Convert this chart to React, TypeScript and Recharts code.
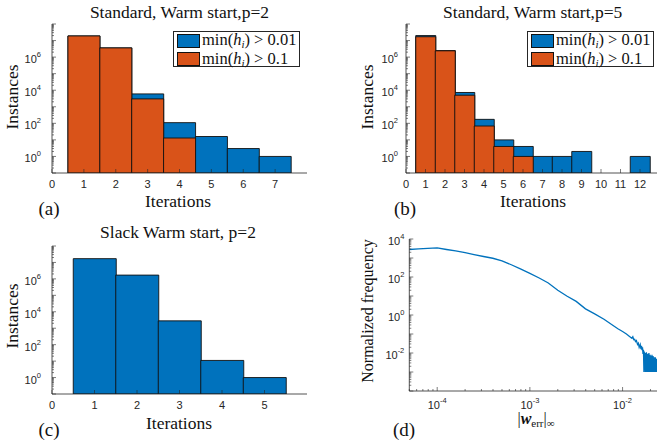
import React from 'react';
import { BarChart, Bar, XAxis, YAxis, LineChart, Line } from 'recharts';

// ---------------- data ----------------
// (a) Standard, warm start, p=2
const iterationsA = [1, 2, 3, 4, 5, 6, 7];
const countsA001 = [1.9e7, 3.6e6, 6.0e3, 110, 16, 3, 1];
const countsA01 = [1.9e7, 3.6e6, 3.0e3, 13, null, null, null];
// (b) Standard, warm start, p=5
const iterationsB = [1, 2, 3, 4, 5, 6, 7, 8, 9, 10, 11, 12];
const countsB001 = [2.0e7, 2.5e6, 7.3e3, 174, 10, 4, 1, 1, 2, null, null, 1];
const countsB01 = [1.7e7, 2.4e6, 5.0e3, 69, 4, 1, null, null, null, null, null, null];
// (c) Slack warm start, p=2
const iterationsC = [1, 2, 3, 4, 5];
const countsC = [1.7e7, 1.7e6, 2.8e3, 11, 1];
// (d) normalized frequency of |w_err|_inf
const errValues = [
  5.0e-5, 6.3e-5, 7.9e-5, 1.0e-4, 1.26e-4, 1.58e-4, 2.0e-4, 2.5e-4, 3.16e-4, 3.98e-4,
  5.0e-4, 6.3e-4, 7.9e-4, 1.0e-3, 1.26e-3, 1.58e-3, 2.0e-3, 2.5e-3, 3.16e-3, 3.98e-3,
  5.0e-3, 6.3e-3, 7.9e-3, 8.9e-3, 1.0e-2, 1.10e-2, 1.17e-2,
  1.26e-2, 1.29e-2, 1.32e-2, 1.35e-2, 1.38e-2, 1.41e-2, 1.45e-2, 1.48e-2, 1.51e-2, 1.55e-2,
  1.58e-2, 1.60e-2, 1.62e-2, 1.64e-2, 1.66e-2, 1.68e-2,
  1.700e-2, 1.715e-2, 1.730e-2, 1.745e-2, 1.760e-2, 1.775e-2, 1.790e-2, 1.805e-2, 1.820e-2, 1.835e-2,
  1.850e-2, 1.865e-2, 1.880e-2, 1.895e-2, 1.910e-2, 1.925e-2, 1.940e-2, 1.955e-2, 1.970e-2, 1.985e-2,
  2.000e-2, 2.015e-2, 2.030e-2, 2.045e-2, 2.060e-2, 2.075e-2, 2.090e-2, 2.105e-2, 2.120e-2, 2.135e-2,
  2.150e-2, 2.165e-2, 2.180e-2, 2.195e-2, 2.210e-2, 2.225e-2, 2.240e-2, 2.255e-2, 2.270e-2, 2.285e-2,
  2.300e-2, 2.315e-2, 2.330e-2, 2.345e-2, 2.360e-2, 2.375e-2, 2.390e-2, 2.405e-2, 2.420e-2, 2.435e-2,
  2.450e-2,
];
const normFreq = [
  2800, 3000, 3200, 3400, 2800, 2350, 1900, 1500, 1200, 970,
  710, 440, 265, 155, 89, 48, 20, 10, 5.2, 2.1,
  1.15, 0.60, 0.28, 0.19, 0.135, 0.10, 0.079,
  0.060, 0.071, 0.050, 0.052, 0.040, 0.045, 0.028, 0.033, 0.020, 0.028,
  0.016, 0.024, 0.014, 0.020, 0.009, 0.015,
  0.001, 0.012, 0.002, 0.010, 0.001, 0.009, 0.003, 0.011, 0.001, 0.008,
  0.001, 0.009, 0.002, 0.007, 0.001, 0.010, 0.001, 0.006, 0.002, 0.008,
  0.001, 0.007, 0.001, 0.006, 0.002, 0.008, 0.001, 0.005, 0.001, 0.007,
  0.001, 0.005, 0.002, 0.006, 0.001, 0.005, 0.001, 0.006, 0.001, 0.004,
  0.001, 0.005, 0.002, 0.005, 0.001, 0.004, 0.001, 0.005, 0.001, 0.004,
  0.001,
];

// ticks
const xTicksA = [0, 1, 2, 3, 4, 5, 6, 7];
const xTicksB = [0, 1, 2, 3, 4, 5, 6, 7, 8, 9, 10, 11, 12];
const xTicksC = [0, 1, 2, 3, 4, 5];
const histYLabelTicks = [1, 1e2, 1e4, 1e6];
const dXLabelTicks = [1e-4, 1e-3, 1e-2];
const dYLabelTicks = [1e-2, 1, 1e2, 1e4];
const legendThresholds = ['0.01', '0.1'];

const titles = ['Standard, Warm start,p=2', 'Standard, Warm start,p=5', 'Slack Warm start, p=2'];

// ---------------- style ----------------
const BLUE = '#0072BD';
const RED = '#D95319';
const AXC = '#262626';
const SANS = '"Liberation Sans", Arial, Helvetica, sans-serif';
const SERIF = '"Liberation Serif", "Times New Roman", serif';
const TFS = 11;

const histYDomain: [number, number] = [0.1, 1e8];
const dXDomain: [number, number] = [5e-5, 3e-2];
const dYDomain: [number, number] = [1e-4, 1e4];

function logTickList(lo: number, hi: number): number[] {
  const out: number[] = [];
  for (let k = Math.floor(Math.log10(lo)); k <= Math.ceil(Math.log10(hi)); k++) {
    for (let m = 1; m <= 9; m++) {
      const v = m * Math.pow(10, k);
      if (v >= lo * 0.9999 && v <= hi * 1.0001) out.push(v);
    }
  }
  return out;
}
const lg = (v: number) => Math.log10(v);
const isDecade = (v: number) => Math.abs(lg(v) - Math.round(lg(v))) < 1e-6;
const isLabeled = (v: number, labels: number[]) => labels.some((m) => Math.abs(lg(v) - lg(m)) < 1e-6);
const expOf = (v: number) => Math.round(lg(v));

// ---- tick renderers ----
const leftLogTick = (labels: number[], gap: number) => (p: any) => {
  const { x, y, payload } = p;
  const v = payload.value;
  const ax = x + gap;
  const len = isDecade(v) ? 4 : 2;
  return (
    <g>
      <line x1={ax} x2={ax + len} y1={y} y2={y} stroke={AXC} strokeWidth={0.6} />
      {isLabeled(v, labels) && (
        <text x={x} y={y + 6} textAnchor="end" fontFamily={SANS} fontSize={TFS} fill={AXC}>
          10<tspan dy={-6} fontSize={7.5}>{expOf(v)}</tspan>
        </text>
      )}
    </g>
  );
};
const rightLogTick = (p: any) => {
  const { x, y, payload } = p;
  const len = isDecade(payload.value) ? 4 : 2;
  return <line x1={x - len} x2={x} y1={y} y2={y} stroke={AXC} strokeWidth={0.6} />;
};
const topTick = (logScale: boolean) => (p: any) => {
  const { x, y, payload } = p;
  const len = !logScale || isDecade(payload.value) ? 4 : 2;
  return <line x1={x} x2={x} y1={y} y2={y + len} stroke={AXC} strokeWidth={0.6} />;
};
const bottomLinTick = (gap: number) => (p: any) => {
  const { x, y, payload } = p;
  const ay = y - gap;
  return (
    <g>
      <line x1={x} x2={x} y1={ay} y2={ay - 4} stroke={AXC} strokeWidth={0.6} />
      <text x={x} y={y} dy="0.71em" textAnchor="middle" fontFamily={SANS} fontSize={TFS} fill={AXC}>
        {payload.value}
      </text>
    </g>
  );
};
const bottomLogTick = (labels: number[], gap: number) => (p: any) => {
  const { x, y, payload } = p;
  const v = payload.value;
  const ay = y - gap;
  const len = isDecade(v) ? 4 : 2;
  return (
    <g>
      <line x1={x} x2={x} y1={ay} y2={ay - len} stroke={AXC} strokeWidth={0.6} />
      {isLabeled(v, labels) && (
        <text x={x} y={y + 8} textAnchor="middle" fontFamily={SANS} fontSize={TFS} fill={AXC}>
          10<tspan dy={-6} fontSize={7.5}>{expOf(v)}</tspan>
        </text>
      )}
    </g>
  );
};

// ---------------- helpers ----------------
function T({ x, y, size = 17.5, rotate = 0, children }: any) {
  return (
    <div
      style={{
        position: 'absolute',
        left: x,
        top: y,
        transform: `translate(-50%,-50%) rotate(${rotate}deg)`,
        fontFamily: SERIF,
        fontSize: size,
        whiteSpace: 'nowrap',
        lineHeight: 1,
        color: '#111',
      }}
    >
      {children}
    </div>
  );
}

function HistLegend({ left, top }: { left: number; top: number }) {
  const colors = [BLUE, RED];
  return (
    <div
      style={{
        position: 'absolute',
        left,
        top,
        width: 127,
        height: 36,
        border: `1px solid ${AXC}`,
        background: '#fff',
        fontFamily: SERIF,
        fontSize: 16.5,
        color: '#111',
        boxSizing: 'border-box',
      }}
    >
      {legendThresholds.map((th, i) => (
        <div key={th} style={{ position: 'absolute', left: 3, top: 1 + i * 18.5, height: 15, display: 'flex', alignItems: 'center' }}>
          <span style={{ display: 'inline-block', width: 21, height: 12, background: colors[i], border: '1px solid #111' }} />
          <span style={{ marginLeft: 2, whiteSpace: 'nowrap', lineHeight: 1 }}>
            min(<i>h</i>
            <span style={{ fontSize: 11, fontStyle: 'italic', position: 'relative', top: 3 }}>i</span>) &gt; {th}
          </span>
        </div>
      ))}
    </div>
  );
}

type HistProps = {
  data: any[];
  width: number;
  height: number;
  margin: any;
  yWidth: number;
  yGap: number;
  xDomain: [number, number];
  xTicks: number[];
  keys: { key: string; color: string }[];
};

const histYTicks = logTickList(histYDomain[0], histYDomain[1]);

function Hist({ data, width, height, margin, yWidth, yGap, xDomain, xTicks, keys }: HistProps) {
  return (
    <BarChart width={width} height={height} data={data} margin={margin} barCategoryGap={0} barGap={0}>
      {keys.map((k, i) => (
        <XAxis
          key={'x' + i}
          xAxisId={'x' + i}
          dataKey="it"
          type="number"
          domain={xDomain}
          allowDataOverflow
          ticks={xTicks}
          interval={0}
          hide={i > 0}
          height={20}
          tickSize={0}
          tickMargin={7}
          tickLine={false}
          axisLine={{ stroke: AXC, strokeWidth: 0.8 }}
          tick={bottomLinTick(7)}
        />
      ))}
      <XAxis
        xAxisId="top"
        orientation="top"
        type="number"
        domain={xDomain}
        allowDataOverflow
        ticks={xTicks}
        interval={0}
        height={0}
        tickSize={0}
        tickMargin={0}
        tickLine={false}
        axisLine={{ stroke: AXC, strokeWidth: 0.8 }}
        tick={topTick(false)}
      />
      <YAxis
        yAxisId="l"
        scale="log"
        type="number"
        domain={histYDomain}
        allowDataOverflow
        ticks={histYTicks}
        interval={0}
        width={yWidth}
        tickSize={0}
        tickMargin={yGap}
        tickLine={false}
        axisLine={{ stroke: AXC, strokeWidth: 0.8 }}
        tick={leftLogTick(histYLabelTicks, yGap)}
      />
      <YAxis
        yAxisId="r"
        orientation="right"
        scale="log"
        type="number"
        domain={histYDomain}
        allowDataOverflow
        ticks={histYTicks}
        interval={0}
        width={0}
        tickSize={0}
        tickMargin={0}
        tickLine={false}
        axisLine={{ stroke: AXC, strokeWidth: 0.8 }}
        tick={rightLogTick}
      />
      {keys.map((k, i) => (
        <Bar
          key={k.key}
          dataKey={k.key}
          xAxisId={'x' + i}
          yAxisId="l"
          fill={k.color}
          stroke="#111"
          strokeWidth={0.9}
          isAnimationActive={false}
        />
      ))}
    </BarChart>
  );
}

const dataA = iterationsA.map((it, i) => ({ it, c001: countsA001[i], c01: countsA01[i] }));
const dataB = iterationsB.map((it, i) => ({ it, c001: countsB001[i], c01: countsB01[i] }));
const dataC = iterationsC.map((it, i) => ({ it, slack: countsC[i] }));
const dataD = errValues.map((x, i) => ({ x, f: normFreq[i] }));

const dXTicks = logTickList(dXDomain[0], dXDomain[1]);
const dYTicks = logTickList(dYDomain[0], dYDomain[1]);

export default function App() {
  const twoKeys = [
    { key: 'c001', color: BLUE },
    { key: 'c01', color: RED },
  ];
  return (
    <div
      style={{
        position: 'absolute',
        left: 0,
        top: 0,
        width: 657,
        height: 447,
        overflow: 'hidden',
        background: '#fff',
      }}
    >
      {/* (a) */}
      <div style={{ position: 'absolute', left: 0, top: 0 }}>
        <Hist
          data={dataA}
          width={330}
          height={200}
          margin={{ top: 24, right: 23, bottom: 7, left: 0 }}
          yWidth={52}
          yGap={11}
          xDomain={[0, 8]}
          xTicks={xTicksA}
          keys={twoKeys}
        />
      </div>
      {/* (b) */}
      <div style={{ position: 'absolute', left: 330, top: 0 }}>
        <Hist
          data={dataB}
          width={340}
          height={200}
          margin={{ top: 24, right: 10.5, bottom: 7, left: 0 }}
          yWidth={76}
          yGap={8}
          xDomain={[0, 13]}
          xTicks={xTicksB}
          keys={twoKeys}
        />
      </div>
      {/* (c) */}
      <div style={{ position: 'absolute', left: 0, top: 220 }}>
        <Hist
          data={dataC}
          width={330}
          height={200}
          margin={{ top: 26, right: 23, bottom: 6, left: 0 }}
          yWidth={52}
          yGap={11}
          xDomain={[0, 6]}
          xTicks={xTicksC}
          keys={[{ key: 'slack', color: BLUE }]}
        />
      </div>
      {/* (d) */}
      <div style={{ position: 'absolute', left: 330, top: 220 }}>
        <LineChart width={345} height={200} data={dataD} margin={{ top: 19, right: 8.2, bottom: 9, left: 0 }}>
          <XAxis
            dataKey="x"
            type="number"
            scale="log"
            domain={dXDomain}
            allowDataOverflow
            ticks={dXTicks}
            interval={0}
            height={20}
            tickSize={0}
            tickMargin={10}
            tickLine={false}
            axisLine={{ stroke: AXC, strokeWidth: 0.8 }}
            tick={bottomLogTick(dXLabelTicks, 10)}
          />
          <XAxis
            xAxisId="top"
            orientation="top"
            type="number"
            scale="log"
            domain={dXDomain}
            allowDataOverflow
            ticks={dXTicks}
            interval={0}
            height={0}
            tickSize={0}
            tickMargin={0}
            tickLine={false}
            axisLine={{ stroke: AXC, strokeWidth: 0.8 }}
            tick={topTick(true)}
          />
          <YAxis
            type="number"
            scale="log"
            domain={dYDomain}
            allowDataOverflow
            ticks={dYTicks}
            interval={0}
            width={79.3}
            tickSize={0}
            tickMargin={5}
            tickLine={false}
            axisLine={{ stroke: AXC, strokeWidth: 0.8 }}
            tick={leftLogTick(dYLabelTicks, 5)}
          />
          <Line dataKey="f" stroke={BLUE} strokeWidth={1.3} dot={false} isAnimationActive={false} />
        </LineChart>
      </div>

      <HistLegend left={173} top={31} />
      <HistLegend left={527} top={31} />

      <T x={179.5} y={13}>{titles[0]}</T>
      <T x={532.7} y={13}>{titles[1]}</T>
      <T x={178} y={233}>{titles[2]}</T>

      <T x={13} y={97} rotate={-90}>Instances</T>
      <T x={368} y={97} rotate={-90}>Instances</T>
      <T x={13} y={316} rotate={-90}>Instances</T>
      <T x={368} y={311} rotate={-90} size={16}>Normalized frequency</T>

      <T x={178} y={202}>Iterations</T>
      <T x={533} y={202}>Iterations</T>
      <T x={179} y={424}>Iterations</T>
      <T x={536} y={419} size={16}>
        |<b><i>w</i></b>
        <span style={{ fontSize: 11, position: 'relative', top: 3 }}>err</span>|
        <span style={{ fontSize: 11, position: 'relative', top: 3 }}>∞</span>
      </T>

      <T x={49} y={208} size={19}>(a)</T>
      <T x={405} y={208} size={19}>(b)</T>
      <T x={49} y={429} size={19}>(c)</T>
      <T x={404} y={429} size={19}>(d)</T>
    </div>
  );
}
